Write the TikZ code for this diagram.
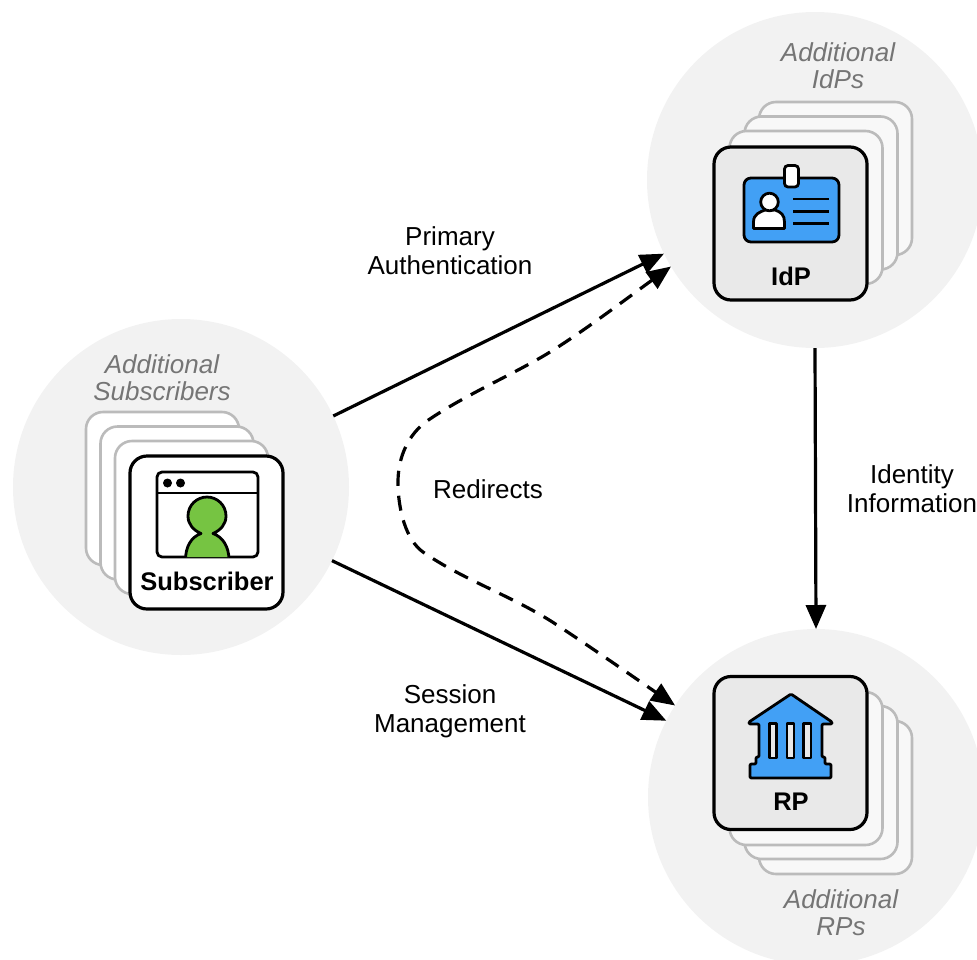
\documentclass[tikz,border=0pt]{standalone}
\usepackage{fontspec}
\setmainfont{Liberation Sans}
\usetikzlibrary{arrows.meta}
\definecolor{halo}{HTML}{F2F2F2}
\definecolor{stackline}{HTML}{BBBBBB}
\definecolor{stackfill}{HTML}{F8F8F8}
\definecolor{cardfill}{HTML}{E9E9E9}
\definecolor{iconblue}{HTML}{42A0F5}
\definecolor{icongreen}{HTML}{76C442}
\definecolor{notegray}{HTML}{757575}
\tikzset{
  halocircle/.style={circle,fill=halo,minimum size=336pt,inner sep=0pt,outer sep=0pt},
  backcard/.style={draw=stackline,fill=stackfill,line width=2.6pt,rounded corners=17pt,minimum size=153pt,inner sep=0pt,outer sep=0pt},
  maincard/.style={draw=black,fill=cardfill,line width=3.2pt,rounded corners=17pt,minimum size=153pt,inner sep=0pt,outer sep=0pt},
  iconline/.style={draw=black,line width=2.8pt,line join=round},
  flow/.style={line width=3.2pt,-{Triangle[length=24pt,width=20pt]}},
  redirect/.style={line width=3.2pt,dash pattern=on 15pt off 10pt,{Triangle[length=24pt,width=20pt]}-{Triangle[length=24pt,width=20pt]}},
  lbl/.style={align=center,inner sep=0pt,font=\fontsize{26}{29}\selectfont},
  notelbl/.style={align=center,inner sep=0pt,text=notegray,font=\fontsize{26}{27}\selectfont\itshape},
  namelbl/.style={inner sep=0pt,font=\fontsize{25.5}{29}\selectfont\bfseries},
}
\begin{document}
\begin{tikzpicture}[x=1pt,y=-1pt]
\useasboundingbox (0,0) rectangle (977,959);
\begin{scope}
\clip (0,0) rectangle (977,959);
\node[halocircle] (sub) at (181,487) {};
\node[halocircle] (idp) at (815,180) {};
\node[halocircle] (rp) at (816,797) {};

% Subscriber stack
\node[backcard,fill=white] (subA) at (162.5,488.5) {};
\node[backcard,fill=white] (subB) at (177,503) {};
\node[backcard,fill=white] (subC) at (191.5,517.5) {};
\node[maincard,fill=white] (subM) at (206.5,532.5) {};
% IdP stack
\node[backcard] (idpA) at (835.5,178.5) {};
\node[backcard] (idpB) at (821,193) {};
\node[backcard] (idpC) at (806,207.5) {};
\node[maincard] (idpM) at (790.5,223.5) {};
% RP stack
\node[backcard] (rpA) at (835.5,797.5) {};
\node[backcard] (rpB) at (821,782.5) {};
\node[backcard] (rpC) at (806,768.5) {};
\node[maincard] (rpM) at (790.5,753) {};
\end{scope}

% Subscriber icon
\draw[iconline,rounded corners=5pt,fill=white] (157,472) rectangle (258,557);
\begin{scope}
\clip[rounded corners=5pt] (157,472) rectangle (258,557);
\draw[iconline,fill=icongreen] (185.5,560) .. controls (185.5,547) and (191,537) .. (201,533.5) .. controls (193,530) and (188,524) .. (188,516) .. controls (188,505) and (197,497) .. (207,497) .. controls (217,497) and (226,505) .. (226,516) .. controls (226,524) and (221,530) .. (213,533.5) .. controls (223,537) and (229,547) .. (229,560) -- cycle;
\end{scope}
\draw[iconline] (157,493) -- (258,493);
\fill (167.5,483) circle (4.5pt) (180.5,483) circle (4.5pt);
\node[namelbl] (subT) at (207,581) {Subscriber};

% ID card icon
\draw[iconline,fill=iconblue,rounded corners=7pt] (744,178) rectangle (839,242);
\draw[iconline,fill=white,rounded corners=3.5pt] (784.5,165.5) rectangle (798.5,187);
\draw[iconline,fill=white] (753.5,228.5) -- (753.5,222) .. controls (753.5,214) and (760,212) .. (765,210) -- (775,210) .. controls (781,212) and (784.5,215) .. (784.5,222) -- (784.5,228.5) -- cycle;
\draw[iconline,fill=white] (769.5,202) circle (8.8pt);
\draw[iconline] (793,199) -- (829,199) (793,211.5) -- (829,211.5) (793,223.5) -- (829,223.5);
\node[namelbl] (idpT) at (791,276) {IdP};

% Bank icon
\draw[iconline,fill=iconblue,rounded corners=1.2pt] (791,694) -- (832,722) -- (832,724) -- (822,724) -- (822,757) -- (825,757) -- (825,764) -- (831,764) -- (831,778) -- (750,778) -- (750,764) -- (756,764) -- (756,757) -- (759,757) -- (759,724) -- (749,724) -- (749,722) -- cycle;
\draw[iconline,fill=cardfill] (769.5,723.5) rectangle (776.5,758);
\draw[iconline,fill=cardfill] (787,723.5) rectangle (794,758);
\draw[iconline,fill=cardfill] (803.5,723.5) rectangle (811,758);
\node[namelbl] (rpT) at (791,802) {RP};

% Labels
\node[notelbl] (noteIdp) at (838,66) {Additional\\IdPs};
\node[notelbl] (noteSub) at (162,378) {Additional\\Subscribers};
\node[notelbl] (noteRp) at (841,912.5) {Additional\\RPs};
\node[lbl] (lblPrimary) at (450,251) {Primary\\Authentication};
\node[lbl] (lblSession) at (450,711.5) {Session\\Management};
\node[lbl] (lblRedirect) at (488,489) {Redirects};
\node[lbl] (lblIdentity) at (912,488.5) {Identity\\Information};

% Connectors
\draw[flow] (sub.25.8) -- (idp.206);
\draw[flow] (sub.-26) -- (rp.153.6);
\draw[flow] (idp.south) -- (rp.north);
\draw[redirect] (idp.211.4) .. controls (630,296) and (575,338) .. (540,358) .. controls (505,378) and (460,398) .. (427,421) .. controls (409,434) and (398,456) .. (398,482) .. controls (398,510) and (406,540) .. (423,552) .. controls (463,580) and (515,597) .. (557,625) .. controls (595,650) and (635,678) .. (rp.147.5);
\end{tikzpicture}
\end{document}
